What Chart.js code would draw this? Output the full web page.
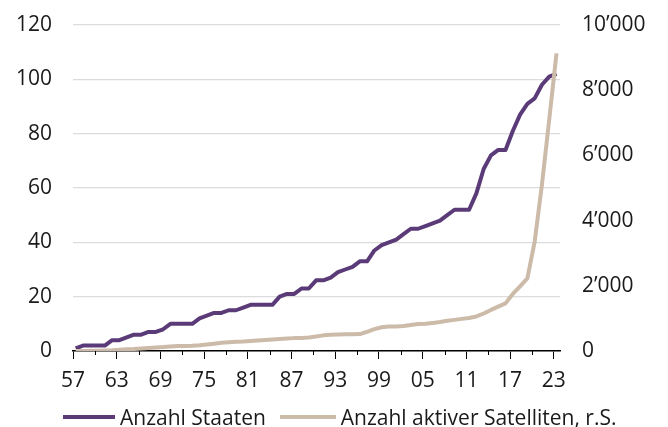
<!DOCTYPE html>
<html>
<head>
<meta charset="utf-8">
<script src="https://cdn.jsdelivr.net/npm/chart.js@4/dist/chart.umd.min.js"></script>
<style>
  body { margin: 0; background: #fff; }
  #wrap { position: relative; width: 668px; height: 427px; }
  #legend { position: absolute; left: 63px; top: 404px; display: flex; align-items: center;
            font-family: 'Open Sans', sans-serif; font-size: 21px; line-height: 26px; color: #1a1a1a; white-space: nowrap; }
  #legend .sw { display: inline-block; height: 4px; margin-right: 5px; }
</style>
</head>
<body>
<div id="wrap">
  <canvas id="chart" width="668" height="427"></canvas>
  <div id="legend">
    <span class="sw" style="width:52px;background:#5a3b77"></span><span>Anzahl Staaten</span>
    <span class="sw" style="width:56px;background:#ccbba9;margin-left:14px"></span><span>Anzahl aktiver Satelliten, r.S.</span>
  </div>
</div>
<script>
const FONT = "'Open Sans', sans-serif";
const PURPLE = '#5a3b77';
const BEIGE = '#ccbba9';

const YEARS = [1957, 1958, 1959, 1960, 1961, 1962, 1963, 1964, 1965, 1966,
               1967, 1968, 1969, 1970, 1971, 1972, 1973, 1974, 1975, 1976,
               1977, 1978, 1979, 1980, 1981, 1982, 1983, 1984, 1985, 1986,
               1987, 1988, 1989, 1990, 1991, 1992, 1993, 1994, 1995, 1996,
               1997, 1998, 1999, 2000, 2001, 2002, 2003, 2004, 2005, 2006,
               2007, 2008, 2009, 2010, 2011, 2012, 2013, 2014, 2015, 2016,
               2017, 2018, 2019, 2020, 2021, 2022, 2023];

// Anzahl Staaten (left axis)
const STAATEN = [1, 2, 2, 2, 2, 4, 4, 5, 6, 6,
                 7, 7, 8, 10, 10, 10, 10, 12, 13, 14,
                 14, 15, 15, 16, 17, 17, 17, 17, 20, 21,
                 21, 23, 23, 26, 26, 27, 29, 30, 31, 33,
                 33, 37, 39, 40, 41, 43, 45, 45, 46, 47,
                 48, 50, 52, 52, 52, 58, 67, 72, 74, 74,
                 81, 87, 91, 93, 98, 101, 102];

// Anzahl aktiver Satelliten (right axis)
const SATELLITEN = [1, 3, 5, 8, 15, 25, 40, 55, 65, 80,
                    95, 110, 120, 135, 150, 155, 160, 175, 200, 225,
                    250, 270, 285, 295, 310, 325, 340, 355, 370, 385,
                    395, 400, 415, 445, 480, 495, 505, 510, 515, 520,
                    590, 670, 730, 750, 755, 770, 800, 825, 835, 860,
                    890, 930, 955, 985, 1010, 1060, 1150, 1260, 1360, 1460,
                    1750, 1980, 2230, 3350, 5100, 7100, 9130];

const TICK_YEARS  = [1957, 1963, 1969, 1975, 1981, 1987, 1993, 1999, 2005, 2011, 2017, 2023];
const TICK_LABELS = ['57', '63', '69', '75', '81', '87', '93', '99', '05', '11', '17', '23'];

const TICK_SHIFT = 0.37;   // tick marks sit slightly left of the yearly points

const toXY = (vals) => vals.map((v, i) => ({ x: YEARS[i], y: v }));
const fmt = (v) => v >= 1000 ? Math.floor(v / 1000) + '\u2019' + String(v % 1000).padStart(3, '0') : String(v);

// short tick marks between the labelled ones
const minorTicks = {
    id: 'minorTicks',
    afterDraw(chart) {
        const xs = chart.scales.x;
        const ctx = chart.ctx;
        ctx.save();
        ctx.strokeStyle = '#000';
        ctx.lineWidth = 1;
        TICK_YEARS.slice(0, -1).forEach(y => {
            const px = Math.round(xs.getPixelForValue(y + 3 - TICK_SHIFT)) + 0.5;
            ctx.beginPath();
            ctx.moveTo(px, xs.top);
            ctx.lineTo(px, xs.top + 4);
            ctx.stroke();
        });
        ctx.restore();
    }
};

new Chart(document.getElementById('chart'), {
    type: 'line',
    data: {
        datasets: [
            { label: 'Anzahl Staaten', data: toXY(STAATEN), yAxisID: 'y', order: 1,
              borderColor: PURPLE, backgroundColor: PURPLE, borderWidth: 4, pointRadius: 0,
              borderJoinStyle: 'round', tension: 0 },
            { label: 'Anzahl aktiver Satelliten, r.S.', data: toXY(SATELLITEN), yAxisID: 'y1', order: 0,
              borderColor: BEIGE, backgroundColor: BEIGE, borderWidth: 4, pointRadius: 0,
              borderJoinStyle: 'round', tension: 0 }
        ]
    },
    options: {
        responsive: false,
        animation: false,
        layout: { padding: { top: 25, left: 0, right: 0, bottom: 0 } },
        plugins: { legend: { display: false }, tooltip: { enabled: false } },
        scales: {
            x: {
                type: 'linear',
                min: 1957 - TICK_SHIFT,
                max: 2023.48,
                afterBuildTicks: (s) => { s.ticks = TICK_YEARS.map(y => ({ value: y - TICK_SHIFT })); },
                afterFit: (s) => { s.height = 76; },
                grid: { drawOnChartArea: false, drawTicks: true, tickLength: 8, tickColor: '#000', tickWidth: 1 },
                border: { color: '#000', width: 1.5 },
                ticks: { autoSkip: false, maxRotation: 0, padding: 9, color: '#1a1a1a',
                         font: { family: FONT, size: 21 },
                         callback: (v, i) => TICK_LABELS[i] }
            },
            y: {
                position: 'left',
                min: 0, max: 120,
                afterFit: (s) => { s.width = 73; },
                grid: { color: '#dcdcdc', lineWidth: 1.3, drawTicks: true, tickLength: 21, tickColor: 'rgba(0,0,0,0)' },
                border: { display: false },
                ticks: { stepSize: 20, padding: 0, color: '#1a1a1a', font: { family: FONT, size: 21 } }
            },
            y1: {
                position: 'right',
                min: 0, max: 10000,
                afterFit: (s) => { s.width = 108; },
                grid: { drawOnChartArea: false, drawTicks: true, tickLength: 22, tickColor: 'rgba(0,0,0,0)' },
                border: { display: false },
                ticks: { stepSize: 2000, padding: 0, color: '#1a1a1a', font: { family: FONT, size: 21 },
                         callback: (v) => fmt(v) }
            }
        }
    },
    plugins: [minorTicks]
});
</script>
</body>
</html>
